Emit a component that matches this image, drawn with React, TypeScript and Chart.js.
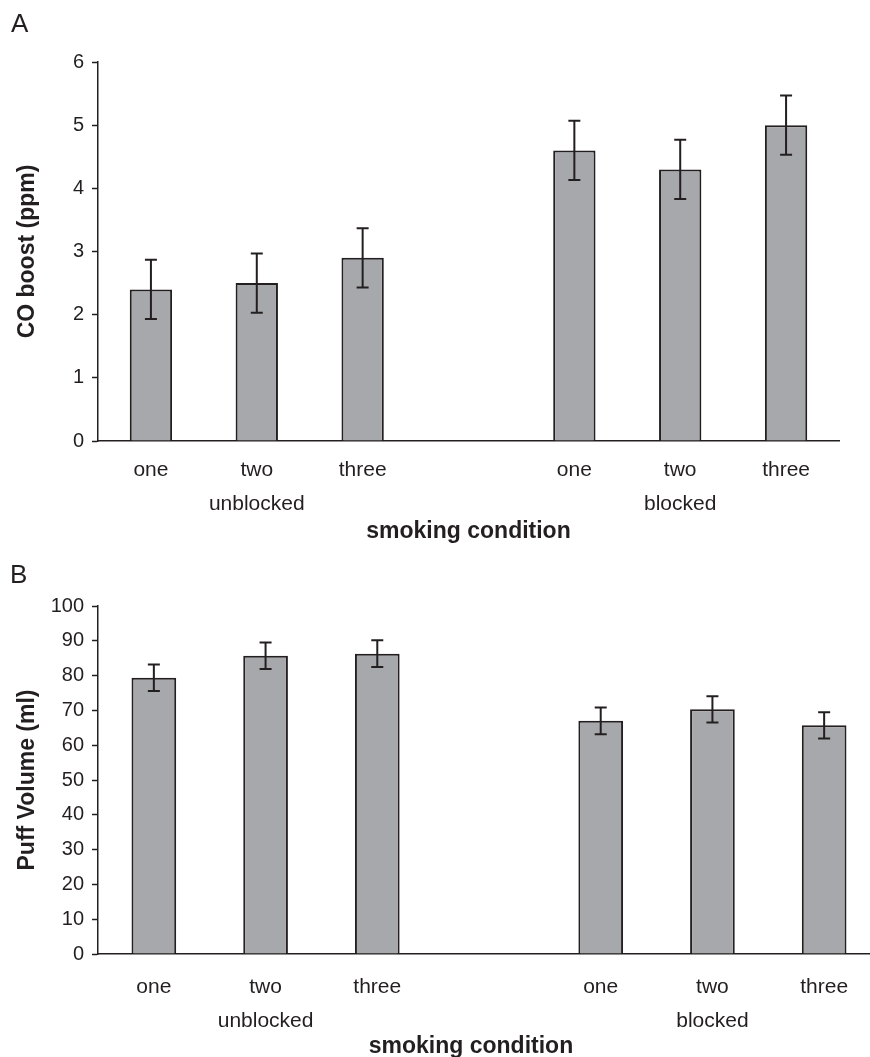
import React, { useEffect, useRef } from 'react';
import { Chart, registerables } from 'chart.js';

Chart.register(...registerables);

// ---- data ----
const categories = ['one', 'two', 'three', '', 'one', 'two', 'three'];
const groupLabels = ['', 'unblocked', '', '', '', 'blocked', ''];

const coBoost = [2.4, 2.5, 2.9, null, 4.6, 4.3, 5.0];
const coBoostErr = [0.47, 0.47, 0.47, null, 0.47, 0.47, 0.47];

const puffVolume = [79.4, 85.7, 86.3, null, 67.0, 70.3, 65.7];
const puffVolumeErr = [3.8, 3.8, 3.85, null, 3.85, 3.8, 3.8];

const coTicks = { min: 0, max: 6, step: 1 };
const puffTicks = { min: 0, max: 100, step: 10 };

const xTitleText = 'smoking condition';
const coTitle = 'CO boost (ppm)';
const puffTitle = 'Puff Volume (ml)';

const FONT = "'Liberation Sans', Arial, Helvetica, sans-serif";
const INK = '#231f20';
const BAR = '#a7a8ab';

const errorBarPlugin = {
  id: 'errorBars',
  afterDatasetsDraw(chart: any, _args: any, opts: any) {
    const ctx = chart.ctx;
    const yScale = chart.scales.y;
    const meta = chart.getDatasetMeta(0);
    const data = chart.data.datasets[0].data;
    const errs = opts.errors || [];
    const cap = opts.cap ?? 6;
    ctx.save();
    ctx.strokeStyle = opts.color || INK;
    ctx.lineWidth = opts.width || 2;
    meta.data.forEach((bar: any, i: number) => {
      const v = data[i];
      const e = errs[i];
      if (v == null || e == null) return;
      const x = bar.x;
      const yt = yScale.getPixelForValue(v + e);
      const yb = yScale.getPixelForValue(v - e);
      ctx.beginPath();
      ctx.moveTo(x, yt);
      ctx.lineTo(x, yb);
      ctx.moveTo(x - cap, yt);
      ctx.lineTo(x + cap, yt);
      ctx.moveTo(x - cap, yb);
      ctx.lineTo(x + cap, yb);
      ctx.stroke();
    });
    ctx.restore();
  },
};

type PanelProps = {
  values: (number | null)[];
  errors: (number | null)[];
  yTitle: string;
  ticks: { min: number; max: number; step: number };
  width: number;
  height: number;
  padTop: number;
  padRight: number;
  axisHeight: number;
  labelPad: number;
  showXTitle: boolean;
  top: number;
};

function BarPanel(p: PanelProps) {
  const ref = useRef<HTMLCanvasElement | null>(null);
  useEffect(() => {
    if (!ref.current) return;
    const labels = categories.map((c, i) => (groupLabels[i] ? [c, groupLabels[i]] : c));
    const chart = new Chart(ref.current, {
      type: 'bar',
      data: {
        labels,
        datasets: [
          {
            data: p.values as any,
            backgroundColor: BAR,
            borderColor: INK,
            borderWidth: 2,
            borderSkipped: 'start',
            barPercentage: 0.4,
            categoryPercentage: 1,
          },
        ],
      },
      options: {
        animation: false,
        responsive: false,
        maintainAspectRatio: false,
        devicePixelRatio: 1,
        layout: { padding: { top: p.padTop, right: p.padRight, bottom: 0, left: 0 } },
        plugins: {
          legend: { display: false },
          tooltip: { enabled: false },
          title: { display: false },
          // @ts-ignore
          errorBars: { errors: p.errors, color: INK, width: 2, cap: 6 },
        },
        scales: {
          x: {
            type: 'category',
            offset: true,
            grid: { display: false, drawTicks: false },
            border: { display: true, color: INK, width: 1.5 },
            ticks: {
              color: INK,
              font: { family: FONT, size: 21, lineHeight: 1.65 },
              padding: p.labelPad,
              maxRotation: 0,
              minRotation: 0,
              autoSkip: false,
            },
            title: {
              display: p.showXTitle,
              text: xTitleText,
              color: INK,
              font: { family: FONT, size: 23, weight: 'bold', lineHeight: 1 },
              padding: { top: 0, bottom: 0 },
            },
            afterFit: (s: any) => {
              s.height = p.axisHeight;
            },
          },
          y: {
            min: p.ticks.min,
            max: p.ticks.max,
            ticks: {
              stepSize: p.ticks.step,
              color: INK,
              font: { family: FONT, size: 20 },
              padding: 8,
            },
            grid: {
              display: true,
              drawOnChartArea: false,
              drawTicks: true,
              tickLength: 6,
              tickColor: INK,
              tickWidth: 1.5,
              color: INK,
            },
            border: { display: true, color: INK, width: 1.5 },
            title: {
              display: true,
              text: p.yTitle,
              color: INK,
              font: { family: FONT, size: 23, weight: 'bold', lineHeight: 1 },
              padding: { top: 16.5, bottom: 0 },
            },
            afterFit: (s: any) => {
              s.width = 98;
            },
          },
        },
      } as any,
      plugins: [errorBarPlugin as any],
    });
    return () => chart.destroy();
  }, []);
  return (
    <canvas
      ref={ref}
      width={p.width}
      height={p.height}
      style={{ position: 'absolute', left: 0, top: p.top, width: p.width, height: p.height }}
    />
  );
}

export default function App() {
  return (
    <div
      style={{
        position: 'absolute',
        left: 0,
        top: 0,
        width: 870,
        height: 1057,
        overflow: 'hidden',
        background: '#fff',
        fontFamily: FONT,
        color: INK,
      }}
    >
      <BarPanel
        values={coBoost}
        errors={coBoostErr}
        yTitle={coTitle}
        ticks={coTicks}
        width={870}
        height={543}
        padTop={62}
        padRight={31}
        axisHeight={102}
        labelPad={11.5}
        showXTitle={true}
        top={0}
      />
      <BarPanel
        values={puffVolume}
        errors={puffVolumeErr}
        yTitle={puffTitle}
        ticks={puffTicks}
        width={890}
        height={514}
        padTop={63}
        padRight={10}
        axisHeight={103}
        labelPad={15.5}
        showXTitle={false}
        top={543}
      />
      <div style={{ position: 'absolute', left: 11, top: 10, fontSize: 26, lineHeight: '26px' }}>A</div>
      <div style={{ position: 'absolute', left: 10, top: 561, fontSize: 26, lineHeight: '26px' }}>B</div>
      <div
        style={{
          position: 'absolute',
          left: 0,
          top: 1033.5,
          width: 942,
          textAlign: 'center',
          fontSize: 23,
          fontWeight: 'bold',
          lineHeight: '23px',
          whiteSpace: 'nowrap',
        }}
      >
        {xTitleText}
      </div>
    </div>
  );
}
